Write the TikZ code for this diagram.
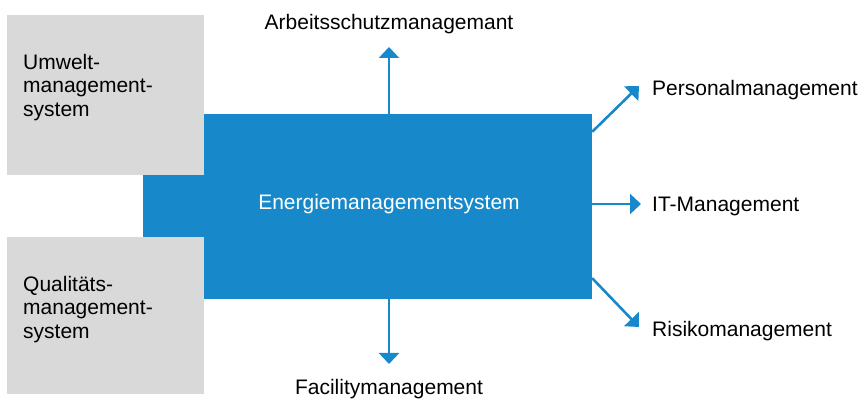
\documentclass[tikz,border=0pt]{standalone}
\usepackage{fontspec}
\setmainfont{Liberation Sans}
\usetikzlibrary{calc,arrows.meta}

\definecolor{emsblue}{HTML}{1789CA}
\definecolor{boxgrey}{HTML}{D9D9D9}

\begin{document}
\begin{tikzpicture}[x=1pt, y=1pt,
    greybox/.style={fill=boxgrey, draw=none, minimum width=197pt, inner sep=0pt},
    boxtext/.style={anchor=north west, align=left, inner sep=0pt, font=\fontsize{21}{23.5}\selectfont},
    lbl/.style={inner sep=0pt, font=\fontsize{21}{24}\selectfont},
    flow/.style={emsblue, line width=2.6pt, -{Triangle[length=11pt, width=20pt]}}]

    % Frame of the picture
    \useasboundingbox (0,0) rectangle (862,399);

    % Blue centre block (grey boxes are laid over its left part)
    \node[fill=emsblue, minimum width=449pt, minimum height=185pt, inner sep=0pt] (ems) at (367.5,192.5) {};
    \node[lbl, anchor=base, text=white] (emslabel) at (389,189) {Energiemanagementsystem};

    % Grey boxes on the left
    \node[greybox, minimum height=160pt] (ums) at (105.5,304) {};
    \node[greybox, minimum height=157pt] (qms) at (105.5,83.5) {};
    \node[boxtext] (umstext) at (23,345) {Umwelt-\\management-\\system};
    \node[boxtext] (qmstext) at (23,123) {Qualitäts-\\management-\\system};

    % Arrow tips
    \coordinate (tipA) at (389,352);  % up
    \coordinate (tipF) at (389,35);   % down
    \coordinate (tipP) at (639,313);  % upper right
    \coordinate (tipI) at (641,195);  % right
    \coordinate (tipR) at (639,72);   % lower right

    % Labels
    \node[lbl, anchor=base] (arbeit) at (389,369) {Arbeitsschutzmanagemant};
    \node[lbl, anchor=base] (facility) at (389,5) {Facilitymanagement};
    \node[lbl, anchor=base west] (personal) at (652,303) {Personalmanagement};
    \node[lbl, anchor=base west] (itm) at (652,187) {IT-Management};
    \node[lbl, anchor=base west] (risiko) at (652,63) {Risikomanagement};

    % Arrows out of the block
    \draw[flow] (ems.north -| tipA) -- (tipA);
    \draw[flow] (ems.south -| tipF) -- (tipF);
    \draw[flow] ($(ems.north east)+(0,-18)$) -- (tipP);
    \draw[flow] (ems.east |- tipI) -- (tipI);
    \draw[flow] ($(ems.south east)+(0,21)$) -- (tipR);

\end{tikzpicture}
\end{document}
